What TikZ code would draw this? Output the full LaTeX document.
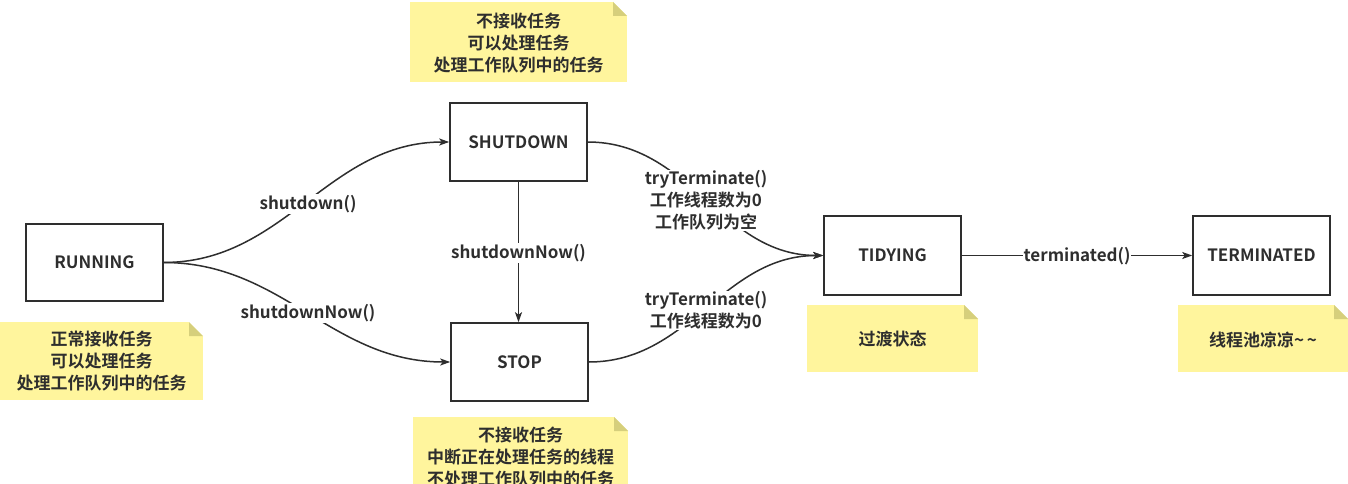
\documentclass[tikz,border=0pt]{standalone}
\usepackage{fontspec}
\setmainfont{Noto Sans CJK SC}[BoldFont={Noto Sans CJK SC Bold}]
\usetikzlibrary{arrows.meta}
\definecolor{ink}{HTML}{2E2E2E}
\definecolor{notey}{HTML}{FFF59D}
\definecolor{foldc}{HTML}{D6CF7C}
\begin{document}
\begin{tikzpicture}[x=1pt,y=-1pt,
  every node/.style={font=\bfseries\fontsize{17}{22}\selectfont, text=ink, align=center},
  state/.style={draw=ink, line width=1.6pt, fill=white, minimum width=137pt, minimum height=78pt, inner sep=0pt},
  lbl/.style={fill=white, inner sep=1pt},
  edge/.style={draw=ink, line width=1.5pt, -{Stealth[length=10pt,width=7pt,inset=2.5pt]}},
  note/.style={fill=notey, inner sep=0pt, path picture={
     \fill[white] ([xshift=-14pt]path picture bounding box.north east) -- (path picture bounding box.north east) -- ([yshift=-14pt]path picture bounding box.north east) -- cycle;
     \fill[foldc] ([xshift=-14pt]path picture bounding box.north east) -- ([yshift=-14pt]path picture bounding box.north east) -- ([xshift=-14pt,yshift=-14pt]path picture bounding box.north east) -- cycle;}}
]
\fill[white] (0,0) rectangle (1348,484);
\useasboundingbox (0,0) rectangle (1348,484);

% notes
\node[note, minimum width=217pt, minimum height=80pt] (nshut) at (518.5,42) {};
\node (tshut) at (518.5,43) {不接收任务\\可以处理任务\\处理工作队列中的任务};
\node[note, minimum width=203pt, minimum height=78pt] (nrun) at (101.5,361) {};
\node (trun) at (101.5,361.5) {正常接收任务\\可以处理任务\\处理工作队列中的任务};
\node[note, minimum width=215pt, minimum height=90pt] (nstop) at (520.5,462) {};
\node (tstop) at (520.5,457) {不接收任务\\中断正在处理任务的线程\\不处理工作队列中的任务};
\node[note, minimum width=171pt, minimum height=67pt] (ntidy) at (892.5,338.5) {};
\node (ttidy) at (892.5,339) {过渡状态};
\node[note, minimum width=170pt, minimum height=67pt] (nterm) at (1263,338.5) {};
\node (tterm) at (1263,340) {线程池凉凉\textasciitilde\,\textasciitilde};

% states
\node[state, minimum height=77pt] (run) at (94.5,262.5) {RUNNING};
\node[state] (shut) at (518.5,142) {SHUTDOWN};
\node[state] (stop) at (519.5,362) {STOP};
\node[state, minimum height=79pt] (tidy) at (892.5,255.5) {TIDYING};
\node[state, minimum height=79pt] (term) at (1261.5,255.5) {TERMINATED};

% edges
\draw[edge] (run.east) to[out=0,in=180] (shut.west);
\draw[edge] (run.east) to[out=0,in=180] (stop.west);
\draw[edge] (shut.south) -- (shut.south |- stop.north);
\draw[edge] (shut.east) to[out=0,in=180] (tidy.west);
\draw[edge] (stop.east) to[out=0,in=180] (tidy.west);
\draw[edge] (tidy.east) -- (term.west);

% labels
\node[lbl] (l1) at (308,204) {shutdown()};
\node[lbl] (l2) at (308,313) {shutdownNow()};
\node[lbl] (l3) at (518.5,253) {shutdownNow()};
\node[lbl] (l4) at (706,200.5) {tryTerminate()\\工作线程数为0\\工作队列为空};
\node[lbl] (l5) at (706,310.5) {tryTerminate()\\工作线程数为0};
\node[lbl] (l6) at (1077,256) {terminated()};
\end{tikzpicture}
\end{document}
